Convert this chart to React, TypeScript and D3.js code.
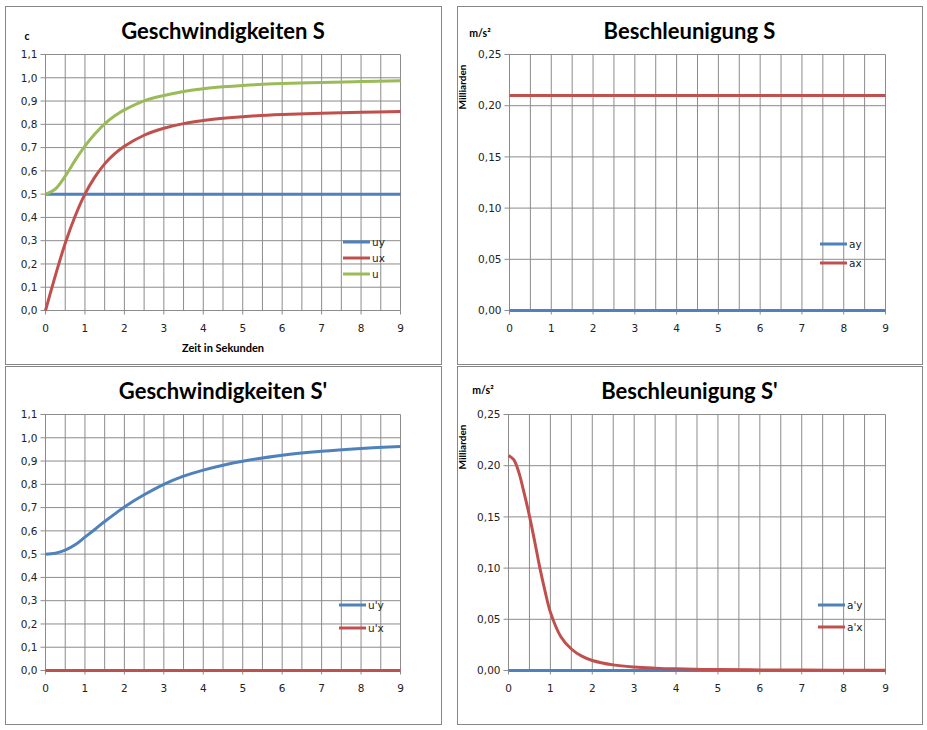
import React from 'react';
import * as d3 from 'd3';

// time in seconds (shared by most series)
const T = [0, 0.25, 0.5, 0.75, 1, 1.25, 1.5, 1.75, 2, 2.5, 3, 3.5, 4, 4.5, 5, 6, 7, 8, 9];

// Geschwindigkeiten S (in c)
const UY = [0.5, 0.5, 0.5, 0.5, 0.5, 0.5, 0.5, 0.5, 0.5, 0.5, 0.5, 0.5, 0.5, 0.5, 0.5, 0.5, 0.5, 0.5, 0.5];
const UX = [0, 0.15, 0.289, 0.405, 0.5, 0.573, 0.63, 0.673, 0.706, 0.753, 0.783, 0.803, 0.816, 0.826, 0.833, 0.842, 0.848, 0.852, 0.855];
const U = [0.5, 0.522, 0.577, 0.645, 0.706, 0.758, 0.802, 0.836, 0.862, 0.901, 0.924, 0.941, 0.953, 0.961, 0.967, 0.975, 0.98, 0.984, 0.987];

// Beschleunigung S (Milliarden m/s²)
const AY = [0, 0, 0, 0, 0, 0, 0, 0, 0, 0, 0, 0, 0, 0, 0, 0, 0, 0, 0];
const AX = [0.21, 0.21, 0.21, 0.21, 0.21, 0.21, 0.21, 0.21, 0.21, 0.21, 0.21, 0.21, 0.21, 0.21, 0.21, 0.21, 0.21, 0.21, 0.21];

// Geschwindigkeiten S'
const UPY = [0.5, 0.504, 0.517, 0.54, 0.573, 0.606, 0.64, 0.672, 0.703, 0.755, 0.8, 0.835, 0.861, 0.882, 0.899, 0.925, 0.942, 0.954, 0.963];
const UPX = [0, 0, 0, 0, 0, 0, 0, 0, 0, 0, 0, 0, 0, 0, 0, 0, 0, 0, 0];

// Beschleunigung S' (a'x sampled finer near the start)
const APY = [0, 0, 0, 0, 0, 0, 0, 0, 0, 0, 0, 0, 0, 0, 0, 0, 0, 0, 0];
const APX_T = [0, 0.125, 0.25, 0.375, 0.5, 0.625, 0.75, 0.875, 1, 1.25, 1.5, 1.75, 2, 2.5, 3, 3.5, 4, 5, 6, 7, 8, 9];
const APX = [0.21, 0.206, 0.193, 0.173, 0.151, 0.126, 0.1, 0.077, 0.057, 0.033, 0.021, 0.014, 0.0098, 0.0055, 0.0034, 0.0023, 0.0016, 0.0009, 0.0006, 0.0004, 0.0003, 0.0002];

const X_TICKS = [0, 1, 2, 3, 4, 5, 6, 7, 8, 9];
const X_GRID = [0.5, 1, 1.5, 2, 2.5, 3, 3.5, 4, 4.5, 5, 5.5, 6, 6.5, 7, 7.5, 8, 8.5, 9];
const V_TICKS = [0, 0.1, 0.2, 0.3, 0.4, 0.5, 0.6, 0.7, 0.8, 0.9, 1.0, 1.1];
const A_TICKS = [0, 0.05, 0.1, 0.15, 0.2, 0.25];

const BLUE = '#4f81bd';
const RED = '#c0504d';
const GREEN = '#9bbb59';
const GRID = '#8c8c8c';
const TICK_FONT = '"DejaVu Sans", Verdana, sans-serif';
const BOLD_FONT = 'Lato, "Open Sans", sans-serif';

type Series = { label: string; values: number[]; color: string; t?: number[] };

type PanelProps = {
  box: [number, number, number, number];
  plot: [number, number, number, number];
  title: string;
  titleY: number;
  yMax: number;
  yTicks: number[];
  decimals: number;
  series: Series[];
  legend: { x: number; y: number; dy: number };
  unit?: { text: string; x: number; y: number };
  milliarden?: { x: number; y: number };
  xTitle?: string;
};

function Panel({ box, plot, title, titleY, yMax, yTicks, decimals, series, legend, unit, milliarden, xTitle }: PanelProps) {
  const [bx, by, bw, bh] = box;
  const [px0, py0, px1, py1] = plot;
  const x = d3.scaleLinear().domain([0, 9]).range([px0, px1]);
  const y = d3.scaleLinear().domain([0, yMax]).range([py1, py0]);
  const fmt = (v: number) => v.toFixed(decimals).replace('.', ',');
  const pathFor = (s: Series) => {
    const ts = s.t || T;
    const line = d3.line<number>()
      .x((_, i) => x(ts[i]))
      .y(d => y(d))
      .curve(d3.curveCatmullRom.alpha(0.5));
    return line(s.values) || '';
  };

  return (
    <g>
      <rect x={bx + 0.5} y={by + 0.5} width={bw} height={bh} fill="#fff" stroke="#868686" />
      <text x={bx + bw / 2} y={titleY} textAnchor="middle" fontFamily={BOLD_FONT} fontWeight="bold" fontSize={22} fill="#000">
        {title}
      </text>

      {/* grid */}
      {yTicks.map(t => (
        <line key={'h' + t} x1={px0 - 5} x2={px1} y1={y(t)} y2={y(t)} stroke={GRID} strokeWidth={1} />
      ))}
      {X_GRID.map(t => (
        <line key={'v' + t} x1={x(t)} x2={x(t)} y1={py0} y2={py1} stroke={GRID} strokeWidth={1} />
      ))}
      <line x1={px0} x2={px0} y1={py0} y2={py1} stroke={GRID} />
      {X_TICKS.map(t => (
        <line key={'xt' + t} x1={x(t)} x2={x(t)} y1={py1} y2={py1 + 4} stroke={GRID} />
      ))}

      {/* tick labels */}
      {yTicks.map(t => (
        <text key={'yl' + t} x={px0 - 8} y={y(t)} dy="0.36em" textAnchor="end" fontFamily={TICK_FONT} fontSize={10.5} fill="#222">
          {fmt(t)}
        </text>
      ))}
      {X_TICKS.map(t => (
        <text key={'xl' + t} x={x(t)} y={py1 + 21} textAnchor="middle" fontFamily={TICK_FONT} fontSize={10.5} fill="#222">
          {t}
        </text>
      ))}

      {/* series */}
      {series.map(s => (
        <path key={s.label} d={pathFor(s)} fill="none" stroke={s.color} strokeWidth={3} strokeLinejoin="round" />
      ))}

      {/* legend */}
      {series.map((s, i) => (
        <g key={'lg' + s.label}>
          <line x1={legend.x} x2={legend.x + 27} y1={legend.y + i * legend.dy} y2={legend.y + i * legend.dy} stroke={s.color} strokeWidth={3} />
          <text x={legend.x + 29} y={legend.y + i * legend.dy} dy="0.36em" fontFamily={TICK_FONT} fontSize={10.5} fill="#222">
            {s.label}
          </text>
        </g>
      ))}

      {unit && (
        <text x={unit.x} y={unit.y} textAnchor="middle" fontFamily={BOLD_FONT} fontWeight="bold" fontSize={10.5} fill="#000">
          {unit.text}
        </text>
      )}
      {milliarden && (
        <text transform={`translate(${milliarden.x},${milliarden.y}) rotate(-90)`} textAnchor="middle" fontFamily={BOLD_FONT} fontWeight="bold" fontSize={10} fill="#000">
          Milliarden
        </text>
      )}
      {xTitle && (
        <text x={(px0 + px1) / 2} y={py1 + 41} textAnchor="middle" fontFamily={BOLD_FONT} fontWeight="bold" fontSize={11} fill="#000">
          {xTitle}
        </text>
      )}
    </g>
  );
}

export default function App() {
  return (
    <svg width={927} height={730} style={{ position: 'absolute', left: 0, top: 0, background: '#fff' }}>
      <Panel
        box={[5, 6, 436, 358]}
        plot={[45.5, 54.5, 400.5, 310.5]}
        title="Geschwindigkeiten S"
        titleY={39}
        yMax={1.1}
        yTicks={V_TICKS}
        decimals={1}
        series={[
          { label: 'uy', values: UY, color: BLUE },
          { label: 'ux', values: UX, color: RED },
          { label: 'u', values: U, color: GREEN },
        ]}
        legend={{ x: 343, y: 242, dy: 16 }}
        unit={{ text: 'c', x: 27, y: 40 }}
        xTitle="Zeit in Sekunden"
      />
      <Panel
        box={[457, 6, 465, 358]}
        plot={[509.5, 54.5, 885.5, 310.5]}
        title="Beschleunigung S"
        titleY={39}
        yMax={0.25}
        yTicks={A_TICKS}
        decimals={2}
        series={[
          { label: 'ay', values: AY, color: BLUE },
          { label: 'ax', values: AX, color: RED },
        ]}
        legend={{ x: 820, y: 244, dy: 19 }}
        unit={{ text: 'm/s²', x: 480, y: 37 }}
        milliarden={{ x: 466, y: 87 }}
      />
      <Panel
        box={[5, 366, 436, 358]}
        plot={[45.5, 414.5, 400.5, 670.5]}
        title="Geschwindigkeiten S'"
        titleY={399}
        yMax={1.1}
        yTicks={V_TICKS}
        decimals={1}
        series={[
          { label: "u'y", values: UPY, color: BLUE },
          { label: "u'x", values: UPX, color: RED },
        ]}
        legend={{ x: 339, y: 605, dy: 23 }}
      />
      <Panel
        box={[457, 366, 465, 358]}
        plot={[508.5, 414.5, 885.5, 670.5]}
        title="Beschleunigung S'"
        titleY={399}
        yMax={0.25}
        yTicks={A_TICKS}
        decimals={2}
        series={[
          { label: "a'y", values: APY, color: BLUE },
          { label: "a'x", values: APX, color: RED, t: APX_T },
        ]}
        legend={{ x: 818, y: 605, dy: 22 }}
        unit={{ text: 'm/s²', x: 483, y: 394 }}
        milliarden={{ x: 466, y: 447 }}
      />
    </svg>
  );
}
